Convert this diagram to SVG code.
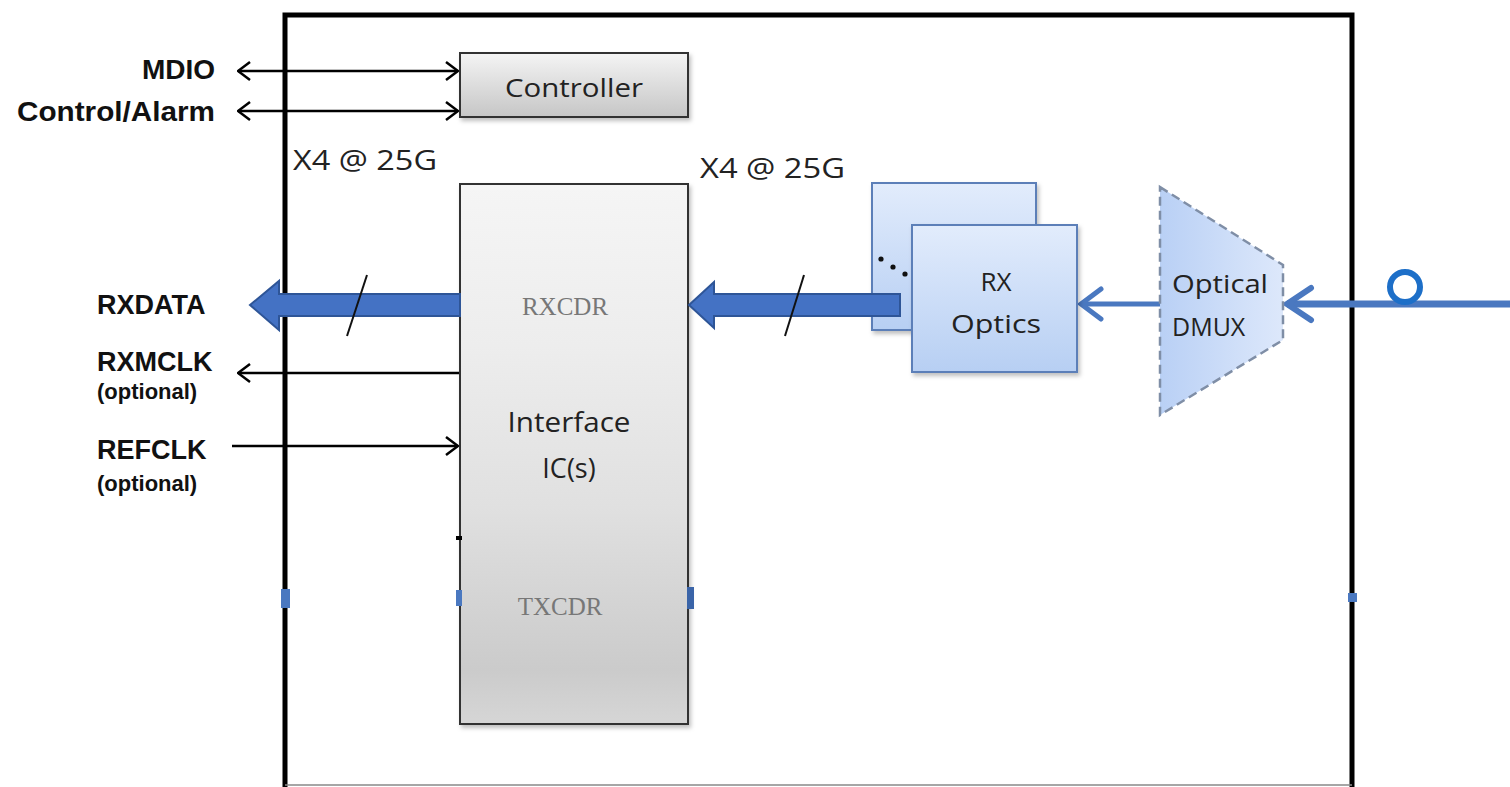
<svg xmlns="http://www.w3.org/2000/svg" width="1510" height="787" viewBox="0 0 1510 787">
<defs>
<linearGradient id="gGray" x1="0" y1="0" x2="0" y2="1">
<stop offset="0" stop-color="#f5f5f5"/><stop offset="0.3" stop-color="#ededed"/><stop offset="0.6" stop-color="#e0e0e0"/><stop offset="0.9" stop-color="#cbcbcb"/><stop offset="1" stop-color="#d6d6d6"/>
</linearGradient>
<linearGradient id="gCtrl" x1="0" y1="0" x2="0" y2="1">
<stop offset="0" stop-color="#f4f4f4"/><stop offset="1" stop-color="#c6c6c6"/>
</linearGradient>
<linearGradient id="gBlue" x1="0" y1="0" x2="0" y2="1">
<stop offset="0" stop-color="#e2ecfc"/><stop offset="1" stop-color="#b7cff3"/>
</linearGradient>
<linearGradient id="gDmux" x1="0" y1="0" x2="1" y2="0">
<stop offset="0" stop-color="#b9d0f5"/><stop offset="1" stop-color="#dde8fb"/>
</linearGradient>
<marker id="chev" viewBox="0 0 14 20" refX="13" refY="10" markerWidth="14" markerHeight="20" markerUnits="userSpaceOnUse" orient="auto-start-reverse">
<path d="M1,1 L13,10 L1,19" fill="none" stroke="#000" stroke-width="2.5"/>
</marker>
<filter id="sh" x="-10%" y="-10%" width="130%" height="130%"><feDropShadow dx="2" dy="3" stdDeviation="2" flood-color="#000" flood-opacity="0.25"/></filter>
</defs>
<style>
.lbl{font-family:"Liberation Sans",Arial,sans-serif;font-weight:bold;fill:#111;}
.reg{font-family:"Open Sans","Liberation Sans",sans-serif;fill:#222;}
.ser{font-family:"Liberation Serif","Times New Roman",serif;fill:#777;}
.thin{stroke:#000;stroke-width:2.5;fill:none;}
.big{fill:#4472c4;stroke:#2e5597;stroke-width:2;}
.blu{stroke:#4a78c0;fill:none;}
</style>
<rect width="1510" height="787" fill="#fff"/>

<g id="module-boundary">
<path d="M285,787 L285,15 L1352,15 L1352,787" fill="none" stroke="#000" stroke-width="5"/>
<line x1="285" y1="785" x2="1352" y2="785" stroke="#888" stroke-width="1.5"/>
<rect x="281" y="589" width="9" height="19" fill="#4a78c0"/>
<rect x="1348" y="593" width="9" height="9" fill="#4a78c0"/>
</g>

<g id="labels">
<text class="lbl" x="215" y="79" font-size="28" text-anchor="end">MDIO</text>
<text class="lbl" x="215" y="121" font-size="28" text-anchor="end" textLength="198" lengthAdjust="spacingAndGlyphs">Control/Alarm</text>
<text class="lbl" x="97" y="314" font-size="27">RXDATA</text>
<text class="lbl" x="97" y="371" font-size="27">RXMCLK</text>
<text class="lbl" x="97" y="399" font-size="22">(optional)</text>
<text class="lbl" x="97" y="459" font-size="27">REFCLK</text>
<text class="lbl" x="97" y="491" font-size="22">(optional)</text>
<text class="reg" x="293" y="170" font-size="27" textLength="144" lengthAdjust="spacingAndGlyphs">X4 @ 25G</text>
<text class="reg" x="700" y="178" font-size="27" textLength="145" lengthAdjust="spacingAndGlyphs">X4 @ 25G</text>
</g>

<g id="controller">
<rect x="460" y="53" width="228" height="64" fill="url(#gCtrl)" stroke="#333" stroke-width="2" filter="url(#sh)"/>
<text class="reg" x="574" y="97" font-size="26" text-anchor="middle" textLength="138" lengthAdjust="spacingAndGlyphs">Controller</text>
</g>

<g id="interface-ic">
<rect x="460" y="184" width="228" height="540" fill="url(#gGray)" stroke="#333" stroke-width="2" filter="url(#sh)"/>
<text class="ser" x="565" y="315" font-size="25" text-anchor="middle">RXCDR</text>
<text class="reg" x="569" y="432" font-size="27" text-anchor="middle" textLength="123" lengthAdjust="spacingAndGlyphs">Interface</text>
<text class="reg" x="569" y="478" font-size="27" text-anchor="middle">IC(s)</text>
<text class="ser" x="560" y="615" font-size="25" text-anchor="middle">TXCDR</text>
<rect x="456" y="590" width="6" height="16" fill="#4a78c0"/>
<rect x="687" y="587" width="7" height="22" fill="#3a64a8"/>
<rect x="456" y="536" width="6" height="4" fill="#000"/>
</g>

<g id="rx-optics">
<rect x="872" y="183" width="164" height="147" fill="url(#gBlue)" stroke="#5b7fb8" stroke-width="2" filter="url(#sh)"/>
<circle cx="881" cy="259" r="2.6" fill="#111"/>
<circle cx="893" cy="267" r="2.6" fill="#111"/>
<circle cx="905" cy="274" r="2.6" fill="#111"/>
</g>

<g id="connectors">
<line x1="238" y1="71" x2="458" y2="71" class="thin" marker-start="url(#chev)" marker-end="url(#chev)"/>
<line x1="238" y1="111" x2="458" y2="111" class="thin" marker-start="url(#chev)" marker-end="url(#chev)"/>
<line x1="459" y1="373" x2="238" y2="373" class="thin" marker-end="url(#chev)"/>
<line x1="232" y1="446" x2="458" y2="446" class="thin" marker-end="url(#chev)"/>
<path class="big" d="M460,294 L279,294 L279,281 L250,305 L279,330 L279,316 L460,316 Z"/>
<line x1="367" y1="275" x2="347" y2="336" stroke="#111" stroke-width="2"/>
<path class="big" d="M900,294 L714,294 L714,282 L689,305 L714,328 L714,316 L900,316 Z"/>
<line x1="804" y1="275" x2="785" y2="336" stroke="#111" stroke-width="2"/>
<line x1="1160" y1="304" x2="1081" y2="304" class="blu" stroke-width="5"/>
<path d="M1101,289 L1081,304 L1101,319" class="blu" stroke-width="5" stroke-linecap="round"/>
<line x1="1510" y1="304" x2="1287" y2="304" class="blu" stroke-width="7"/>
<path d="M1311,288 L1287,304 L1311,320" class="blu" stroke-width="6" stroke-linecap="round"/>
<circle cx="1405" cy="287" r="15" fill="none" stroke="#1d6fc8" stroke-width="6"/>
</g>

<g id="rx-optics-front">
<rect x="912" y="225" width="165" height="147" fill="url(#gBlue)" stroke="#5b7fb8" stroke-width="2" filter="url(#sh)"/>
<text class="reg" x="996" y="291" font-size="26" text-anchor="middle">RX</text>
<text class="reg" x="996" y="333" font-size="26" text-anchor="middle" textLength="90" lengthAdjust="spacingAndGlyphs">Optics</text>
</g>

<g id="optical-dmux">
<path d="M1160,187 L1283,265 L1283,340 L1160,415 Z" fill="url(#gDmux)" stroke="#7f8ea6" stroke-width="2.5" stroke-dasharray="9,5"/>
<text class="reg" x="1172" y="293" font-size="26" textLength="96" lengthAdjust="spacingAndGlyphs">Optical</text>
<text class="reg" x="1172" y="336" font-size="25">DMUX</text>
</g>
</svg>
